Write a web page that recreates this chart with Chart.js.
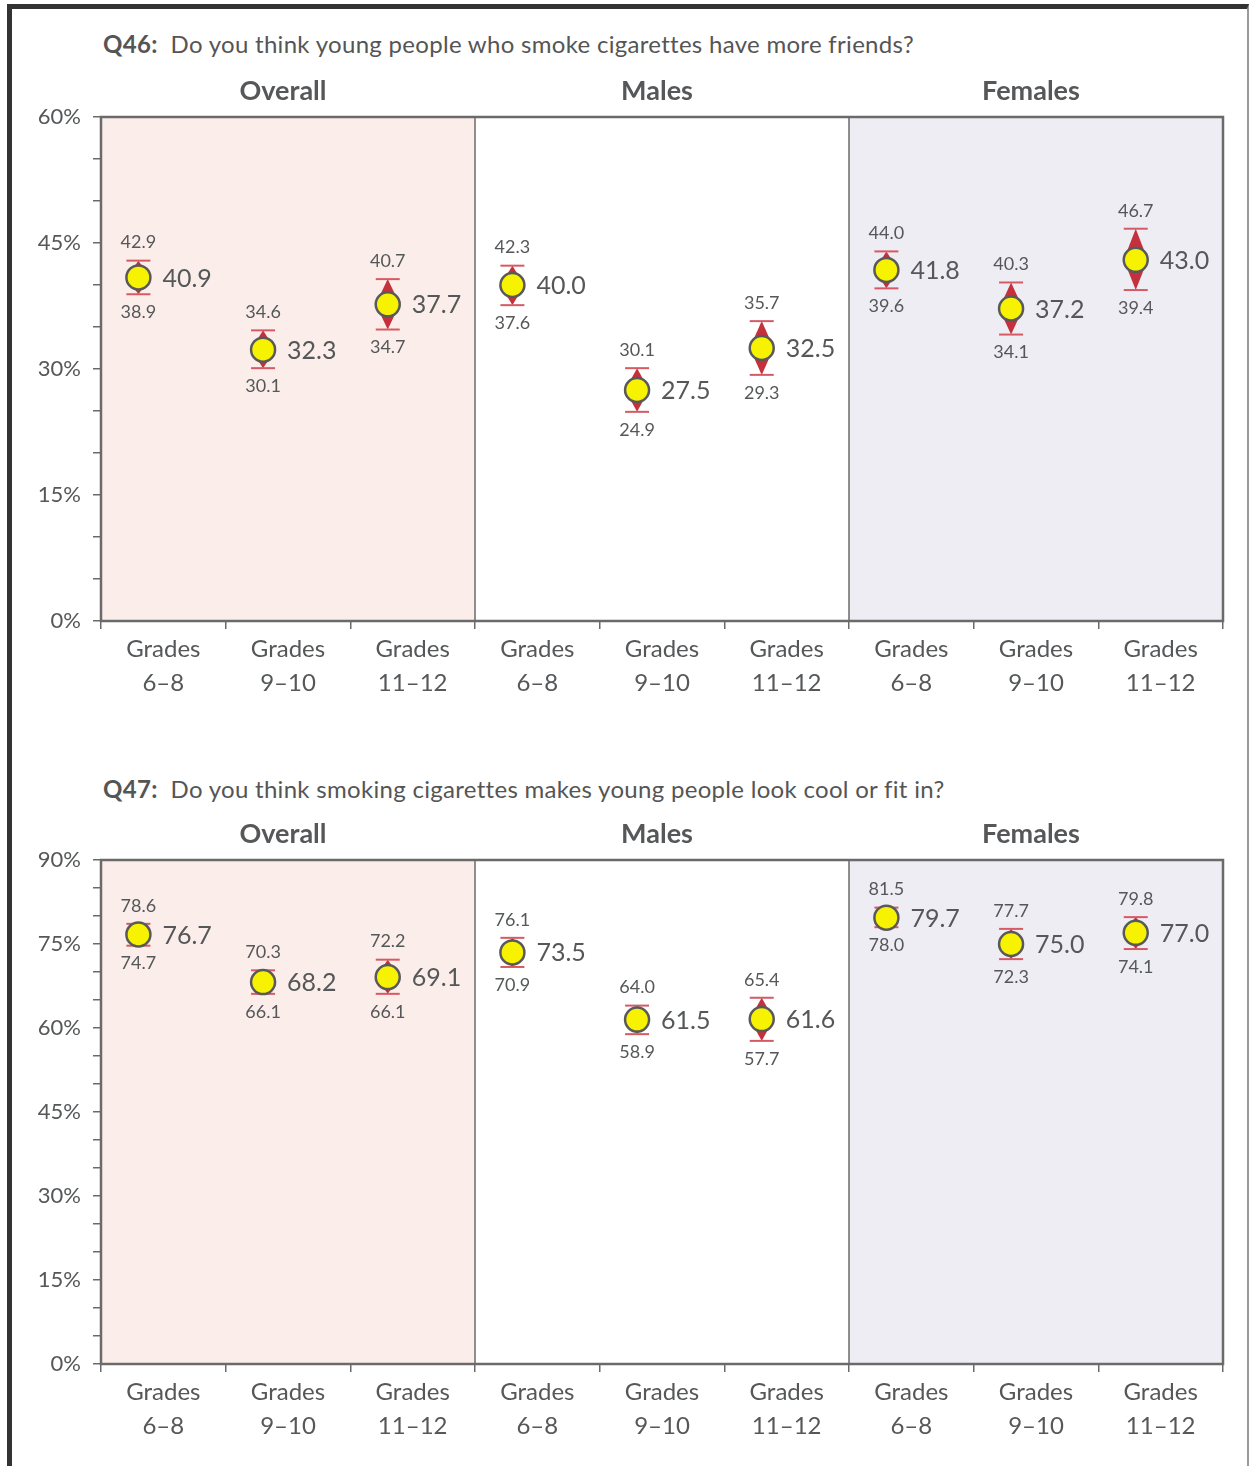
<!DOCTYPE html>
<html>
<head>
<meta charset="utf-8">
<script src="https://cdn.jsdelivr.net/npm/chart.js@4.4.1/dist/chart.umd.min.js"></script>
<style>
  body { margin: 0; background: #fff; font-family: Lato, sans-serif; }
  #page { position: relative; width: 1249px; height: 1466px; overflow: hidden; }
  #frame { position: absolute; left: 7px; top: 4px; width: 1242px; height: 1500px;
           border-top: 5px solid #333; border-left: 5px solid #333; border-right: 2px solid #9a9a9a;
           box-sizing: border-box; }
  .q { position: absolute; left: 103px; font-size: 24px; line-height: 28px; letter-spacing: 0.3px; color: #555; white-space: nowrap; }
  canvas { position: absolute; left: 0; }
</style>
</head>
<body>
<div id="page">
  <div id="frame"></div>
  <div class="q" style="top:30px"><b>Q46:</b>&nbsp; Do you think young people who smoke cigarettes have more friends?</div>
  <div class="q" style="top:775px"><b>Q47:</b>&nbsp; Do you think smoking cigarettes makes young people look cool or fit in?</div>
  <canvas id="q46" width="1249" height="639" style="top:72px"></canvas>
  <canvas id="q47" width="1249" height="639" style="top:815px"></canvas>
</div>
<script>
// categories / panels
const categories = [
  ['Grades', '6–8'], ['Grades', '9–10'], ['Grades', '11–12'],
  ['Grades', '6–8'], ['Grades', '9–10'], ['Grades', '11–12'],
  ['Grades', '6–8'], ['Grades', '9–10'], ['Grades', '11–12']
];
const panels = ['Overall', 'Males', 'Females'];

// Q46: more friends (%)
const q46Value = [40.9, 32.3, 37.7, 40.0, 27.5, 32.5, 41.8, 37.2, 43.0];
const q46Lower = [38.9, 30.1, 34.7, 37.6, 24.9, 29.3, 39.6, 34.1, 39.4];
const q46Upper = [42.9, 34.6, 40.7, 42.3, 30.1, 35.7, 44.0, 40.3, 46.7];

// Q47: look cool / fit in (%)
const q47Value = [76.7, 68.2, 69.1, 73.5, 61.5, 61.6, 79.7, 75.0, 77.0];
const q47Lower = [74.7, 66.1, 66.1, 70.9, 58.9, 57.7, 78.0, 72.3, 74.1];
const q47Upper = [78.6, 70.3, 72.2, 76.1, 64.0, 65.4, 81.5, 77.7, 79.8];

const TEXT = '#555759';
const AXIS = '#6a6a6a';
const FONT = 'Lato, sans-serif';

const panelPlugin = {
    id: 'panels',
    beforeDraw(chart) {
        const { ctx, chartArea: a } = chart;
        const xs = chart.scales.xp;
        ctx.save();
        ctx.fillStyle = '#fbeeea';
        ctx.fillRect(xs.getPixelForValue(0), a.top, xs.getPixelForValue(3) - xs.getPixelForValue(0), a.bottom - a.top);
        ctx.fillStyle = '#eeedf4';
        ctx.fillRect(xs.getPixelForValue(6), a.top, xs.getPixelForValue(9) - xs.getPixelForValue(6), a.bottom - a.top);
        ctx.restore();
    },
    beforeDatasetsDraw(chart) {
        const { ctx, chartArea: a } = chart;
        const xs = chart.scales.xp;
        const ys = chart.scales.y;
        ctx.save();
        // frame + dividers
        ctx.strokeStyle = AXIS;
        ctx.lineWidth = 2.5;
        ctx.strokeRect(a.left, a.top, a.right - a.left, a.bottom - a.top);
        ctx.lineWidth = 1.5;
        [3, 6].forEach(v => {
            const x = xs.getPixelForValue(v);
            ctx.beginPath();
            ctx.moveTo(x, a.top);
            ctx.lineTo(x, a.bottom);
            ctx.stroke();
        });
        // panel headers
        ctx.fillStyle = TEXT;
        ctx.font = 'bold 27px ' + FONT;
        ctx.textAlign = 'center';
        ctx.textBaseline = 'middle';
        panels.forEach((p, i) => {
            ctx.fillText(p, xs.getPixelForValue(i * 3 + 1.5) - 5, a.top - 26);
        });
        // error bars
        chart.data.datasets.forEach(ds => {
            ds.data.forEach((pt, i) => {
                const x = xs.getPixelForValue(pt.x);
                const yc = ys.getPixelForValue(pt.y);
                const yl = ys.getPixelForValue(ds.errLo[i]);
                const yh = ys.getPixelForValue(ds.errHi[i]);
                ctx.fillStyle = '#c4303c';
                ctx.beginPath();
                ctx.moveTo(x, yh);
                ctx.lineTo(x + 12, yc);
                ctx.lineTo(x, yl);
                ctx.lineTo(x - 12, yc);
                ctx.closePath();
                ctx.fill();
                ctx.strokeStyle = '#d65a64';
                ctx.lineWidth = 2;
                [yh, yl].forEach(y => {
                    ctx.beginPath();
                    ctx.moveTo(x - 12, y);
                    ctx.lineTo(x + 12, y);
                    ctx.stroke();
                });
            });
        });
        ctx.restore();
    },
    afterDatasetsDraw(chart) {
        const { ctx } = chart;
        const xs = chart.scales.xp;
        const ys = chart.scales.y;
        ctx.save();
        ctx.fillStyle = TEXT;
        ctx.textBaseline = 'middle';
        chart.data.datasets.forEach(ds => {
            ds.data.forEach((pt, i) => {
                const x = xs.getPixelForValue(pt.x);
                const yc = ys.getPixelForValue(pt.y);
                const yl = ys.getPixelForValue(ds.errLo[i]);
                const yh = ys.getPixelForValue(ds.errHi[i]);
                ctx.font = '18px ' + FONT;
                ctx.textAlign = 'center';
                ctx.fillText(ds.errHi[i].toFixed(1), x, yh - 18);
                ctx.fillText(ds.errLo[i].toFixed(1), x, yl + 18);
                ctx.font = '25px ' + FONT;
                ctx.textAlign = 'left';
                ctx.fillText(pt.y.toFixed(1), x + 24, yc + 1);
            });
        });
        ctx.restore();
    }
};

function criarGrafico(id, values, lower, upper, maxY) {
    return new Chart(document.getElementById(id), {
        type: 'scatter',
        data: {
            labels: categories,
            datasets: [{
                data: values.map((v, i) => ({ x: i + 0.3, y: v })),
                errLo: lower,
                errHi: upper,
                xAxisID: 'xp',
                yAxisID: 'y',
                pointRadius: 12,
                pointHoverRadius: 12,
                pointBackgroundColor: '#f7f200',
                pointBorderColor: '#595959',
                pointBorderWidth: 2.5
            }]
        },
        options: {
            responsive: false,
            animation: false,
            events: [],
            layout: { padding: { top: 45, right: 26, left: 0, bottom: 0 } },
            plugins: { legend: { display: false }, tooltip: { enabled: false } },
            scales: {
                x: {
                    type: 'category',
                    position: 'bottom',
                    offset: true,
                    afterFit: s => { s.height = 90; },
                    grid: { offset: true, drawOnChartArea: false, tickLength: 8, color: AXIS, lineWidth: 1.5 },
                    border: { display: false },
                    ticks: { color: TEXT, font: { family: FONT, size: 24, lineHeight: 1.42 }, padding: 3, maxRotation: 0 }
                },
                xp: { type: 'linear', display: false, min: 0, max: 9 },
                y: {
                    min: 0,
                    max: maxY,
                    afterFit: s => { s.width = 101; },
                    grid: { drawOnChartArea: false, tickLength: 8, color: AXIS, lineWidth: 1.5 },
                    border: { display: false },
                    ticks: {
                        stepSize: 5,
                        autoSkip: false,
                        padding: 12,
                        color: TEXT,
                        font: { family: FONT, size: 22 },
                        callback: v => (v % 15 === 0 ? v + '%' : '')
                    }
                }
            }
        },
        plugins: [panelPlugin]
    });
}

criarGrafico('q46', q46Value, q46Lower, q46Upper, 60);
criarGrafico('q47', q47Value, q47Lower, q47Upper, 90);
</script>
</body>
</html>
